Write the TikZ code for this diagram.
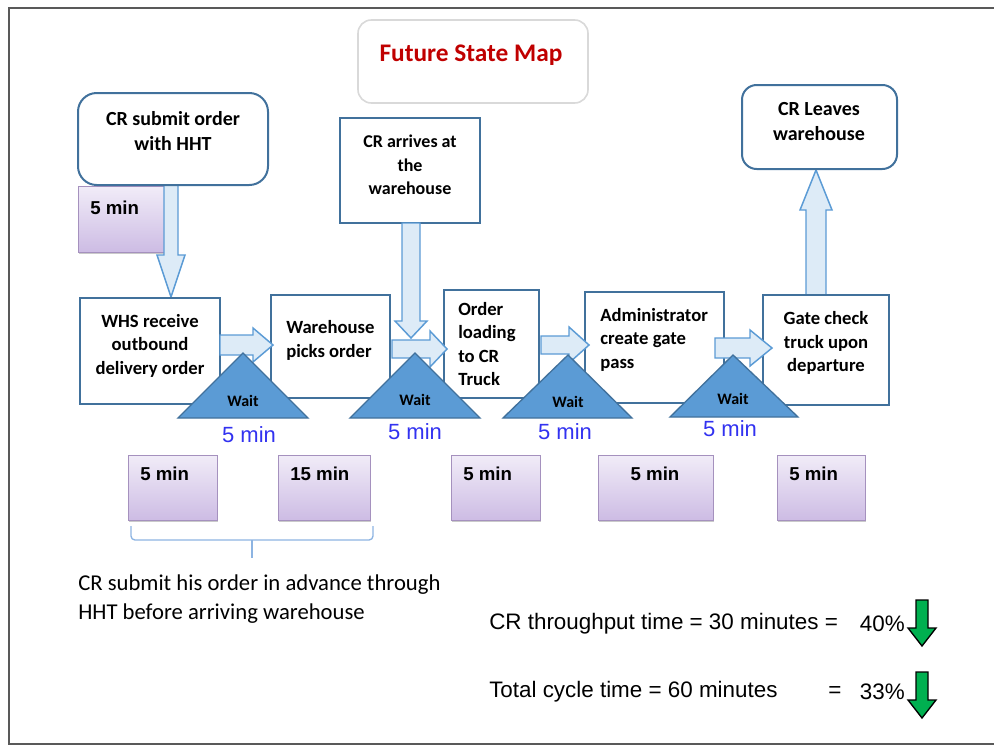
\documentclass[tikz,border=0pt]{standalone}
\usepackage{fontspec}
\setmainfont{Carlito}
\newfontfamily\arialf{Liberation Sans}
\usetikzlibrary{fit,shadows}
\definecolor{boxblue}{RGB}{65,113,156}
\definecolor{arrowfill}{RGB}{221,235,247}
\definecolor{arrowline}{RGB}{91,155,213}
\definecolor{trifill}{RGB}{91,155,213}
\definecolor{titlered}{RGB}{192,0,0}
\definecolor{minblue}{RGB}{50,50,240}
\definecolor{grayline}{RGB}{217,217,217}
\definecolor{purtop}{RGB}{241,236,248}
\definecolor{purbot}{RGB}{205,188,228}
\definecolor{purline}{RGB}{165,145,190}
\definecolor{greenarrow}{RGB}{0,176,80}
\definecolor{bracecol}{RGB}{141,180,226}
\tikzset{
 procbox/.style={draw=boxblue, line width=1.5pt, fill=white, inner sep=0pt},
 roundbox/.style={procbox, rounded corners=12pt},
 titlebox/.style={draw=grayline, line width=1.2pt, fill=white, inner sep=0pt, rounded corners=10pt},
 ptext/.style={inner sep=0pt, font=\bfseries\fontsize{14}{17.6}\selectfont},
 bigtext/.style={inner sep=0pt, align=center, font=\bfseries\fontsize{15}{18.75}\selectfont},
 purbox/.style={draw=purline, line width=0.6pt, top color=purtop, bottom color=purbot, inner sep=0pt, drop shadow={shadow xshift=0.8pt, shadow yshift=-1.2pt, opacity=0.35, fill=black!60}},
 purtext/.style={inner sep=0pt, font=\arialf\bfseries\fontsize{14}{16}\selectfont},
 barrow/.style={draw=arrowline, fill=arrowfill, line width=1.1pt, line join=miter},
 garrow/.style={draw=black, fill=greenarrow, line width=1pt, line join=miter},
 waittri/.style={draw=boxblue, fill=trifill, line width=1pt},
 waittext/.style={inner sep=0pt, font=\bfseries\fontsize{12}{14}\selectfont},
 bluemin/.style={inner sep=0pt, text=minblue, font=\arialf\fontsize{16.5}{18}\selectfont},
 stat/.style={inner sep=0pt, font=\arialf\fontsize{16.8}{18}\selectfont},
}
% horizontal block arrow: x start, x tip, y centre, shaft half, head half, head length
\newcommand\harrowd[6]{\draw[barrow] ({#1},{#3-#4}) -- ({#2-#6},{#3-#4}) -- ({#2-#6},{#3-#5}) -- ({#2},{#3}) -- ({#2-#6},{#3+#5}) -- ({#2-#6},{#3+#4}) -- ({#1},{#3+#4}) -- cycle;}
% vertical block arrow: style, x centre, y start, y tip, shaft half, head half, signed head length
\newcommand\varrowd[7]{\draw[#1] ({#2-#5},{#3}) -- ({#2-#5},{#4-(#7)}) -- ({#2-#6},{#4-(#7)}) -- ({#2},{#4}) -- ({#2+#6},{#4-(#7)}) -- ({#2+#5},{#4-(#7)}) -- ({#2+#5},{#3}) -- cycle;}
\begin{document}
\begin{tikzpicture}[x=0.75pt,y=-0.75pt]
\useasboundingbox (0,0) rectangle (994,746);
% frame
\draw[line width=1.5pt, draw=black!65] (994,8) -- (9,8) -- (9,744) -- (994,744);
% title
\node[titlebox, fit={(358,20) (588,103)}] (title) {};
\node[inner sep=0pt, text=titlered, font=\bfseries\fontsize{19}{22}\selectfont] (titletext) at (471,55) {Future State Map};
% top purple
\node[purbox, fit={(78,186) (165,252)}] (p0) {};
\node[purtext, anchor=west] (p0t) at (90,208) {5 min};
% arrow submit -> whs
\varrowd{barrow}{171}{184}{297}{7}{14}{42}
% submit
\node[roundbox, rounded corners=14pt, fit={(78,93) (268,185)}] (submit) {};
\node[bigtext] (submitt) at (173,131.5) {CR submit order\\with HHT};
% arrives
\node[procbox, fit={(340,118) (480,223)}] (arrives) {};
\node[ptext, align=center, font=\bfseries\fontsize{13.5}{17.6}\selectfont] (arrivest) at (410,165) {CR arrives at\\the\\warehouse};
% arrow gate -> leaves
\varrowd{barrow}{816}{296}{170}{10}{16}{-40}
% leaves
\node[roundbox, rounded corners=11pt, fit={(742,85) (897,169)}] (leaves) {};
\node[bigtext] (leavest) at (819,122) {CR Leaves\\warehouse};
% process boxes
\node[procbox, fit={(80,298) (220,404)}] (whs) {};
\node[ptext, align=center] (whst) at (150,345.5) {WHS receive\\outbound\\delivery order};
\node[procbox, fit={(271,295) (390,398)}] (pick) {};
\node[ptext, align=left, anchor=west] (pickt) at (286,340.5) {Warehouse\\picks order};
\node[procbox, fit={(444,290) (539,398)}] (load) {};
\node[ptext, align=left, anchor=west] (loadt) at (458,344) {Order\\loading\\to CR\\Truck};
\node[procbox, fit={(585,292) (724,403)}] (admin) {};
\node[ptext, align=left, anchor=west] (admint) at (600,339.5) {Administrator\\create gate\\pass};
\node[procbox, fit={(763,295) (889,405)}] (gate) {};
\node[ptext, align=center] (gatet) at (826,343) {Gate check\\truck upon\\departure};
% horizontal arrows
\harrowd{220}{273}{345}{10}{17}{20}
\harrowd{392}{447}{349}{9}{18}{17}
\harrowd{541}{589}{345}{9}{18}{20}
\harrowd{715}{772}{348}{10}{18}{22}
% arrow arrives -> load
\varrowd{barrow}{411}{223}{338}{9}{16}{17}
% wait triangles
\draw[waittri] (243,353) -- (308,418) -- (178,418) -- cycle;
\node[waittext] (w1) at (243,401) {Wait};
\draw[waittri] (415,353) -- (480,418) -- (350,418) -- cycle;
\node[waittext] (w2) at (415,400) {Wait};
\draw[waittri] (568,355) -- (632,418) -- (503,418) -- cycle;
\node[waittext] (w3) at (568,402) {Wait};
\draw[waittri] (733,355) -- (798,417) -- (670,417) -- cycle;
\node[waittext] (w4) at (733,399) {Wait};
% blue wait times
\node[bluemin] (m1) at (249,435) {5 min};
\node[bluemin] (m2) at (415,432) {5 min};
\node[bluemin] (m3) at (565,432) {5 min};
\node[bluemin] (m4) at (730,429) {5 min};
% bottom purple boxes
\node[purbox, fit={(128,455) (217,520)}] (b1) {};
\node[purtext, anchor=west] (b1t) at (140,474) {5 min};
\node[purbox, fit={(278,455) (370,520)}] (b2) {};
\node[purtext, anchor=west] (b2t) at (290,474) {15 min};
\node[purbox, fit={(451,455) (540,520)}] (b3) {};
\node[purtext, anchor=west] (b3t) at (463,474) {5 min};
\node[purbox, fit={(598,455) (713,520)}] (b4) {};
\node[purtext] (b4t) at (655,474) {5 min};
\node[purbox, fit={(777,455) (865,520)}] (b5) {};
\node[purtext, anchor=west] (b5t) at (789,474) {5 min};
% brace
\draw[bracecol, line width=1pt] (131,526) -- (131,536) to[out=-90,in=180] (135,540) -- (369,540) to[out=0,in=-90] (373,536) -- (373,526);
\draw[bracecol, line width=1pt] (252,540) -- (252,558);
% note
\node[inner sep=0pt, anchor=west, align=left, font=\fontsize{17}{21.75}\selectfont] (note) at (78,599.5) {CR submit his order in advance through\\HHT before arriving warehouse};
% stats
\node[stat, anchor=west] (s1) at (489,624) {CR throughput time = 30 minutes =};
\node[stat, anchor=east] (s1p) at (905,624) {40\%};
\node[stat, anchor=west] (s2) at (489,692) {Total cycle time = 60 minutes};
\node[stat] (s2e) at (835,692) {=};
\node[stat, anchor=east] (s2p) at (905,692) {33\%};
\varrowd{garrow}{922}{600}{646}{6}{14}{18}
\varrowd{garrow}{922}{672}{718}{6}{14}{18}
\end{tikzpicture}
\end{document}
